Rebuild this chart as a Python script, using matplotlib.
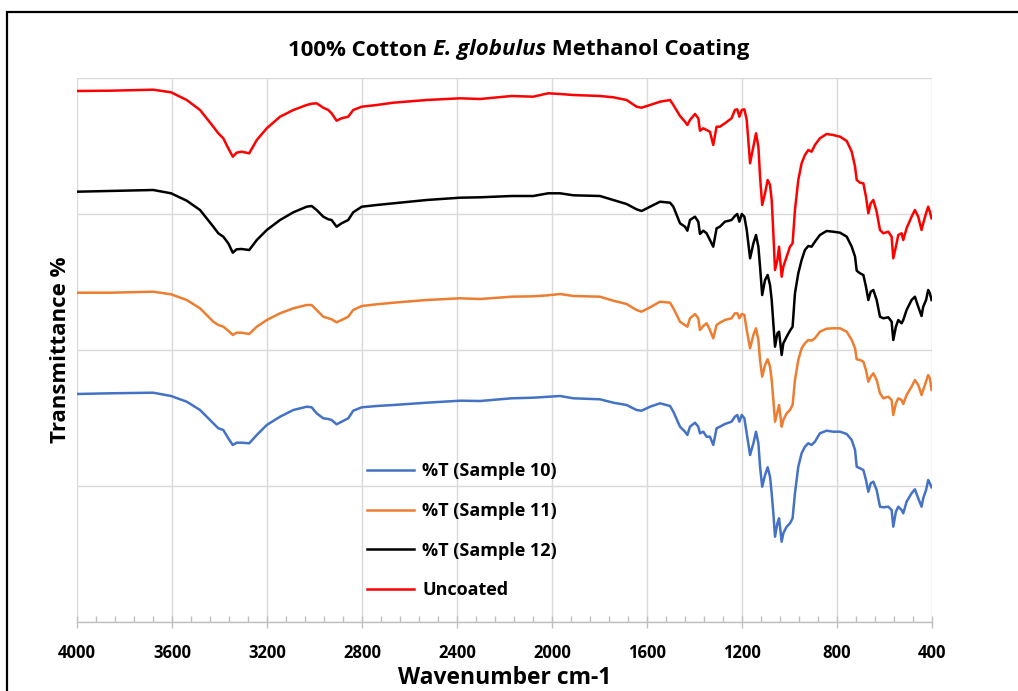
import matplotlib
matplotlib.use("Agg")
import matplotlib.pyplot as plt
from matplotlib.patches import Rectangle
from matplotlib.ticker import MultipleLocator

# ── Data (arbitrary offset transmittance units) ──────────────────────────────

wavenumber = [
    4000, 3861, 3679, 3604, 3538, 3482, 3426, 3405, 3384, 3363, 3344, 3328, 3307,
    3275, 3243, 3201, 3145, 3089, 3033, 3012, 2991, 2963, 2942, 2928, 2907, 2886,
    2858, 2837, 2801, 2738, 2668, 2528, 2387, 2303,
    2170, 2079, 2016, 1966, 1910,
    1798, 1742, 1686, 1644, 1623, 1587, 1545, 1503, 1489, 1461, 1440, 1430, 1419,
    1398, 1384, 1377, 1363, 1349, 1335, 1321, 1307, 1293, 1272, 1244, 1230, 1220,
    1211, 1201, 1190, 1180, 1166, 1152, 1141, 1131, 1124, 1115, 1103, 1092, 1082,
    1075, 1068, 1061, 1051, 1044, 1033, 1026, 1012, 998, 987, 977, 963, 949, 935,
    921, 907, 893, 872, 844, 816, 787, 759, 738, 724, 717, 703, 689, 678, 668, 658,
    647, 633, 619, 605, 584, 570, 563, 552, 542, 528, 521, 507, 486, 472, 458, 444,
    437, 425, 416, 409, 402,
]

t_uncoated = [
    531, 531.3, 532.3, 529.7, 522, 512, 495.3, 488.7, 483.7, 473.7, 465.3, 469.3,
    470.3, 468.7, 482, 493.7, 505.3, 512, 517, 518.3, 518.7, 514.3, 512, 508.7,
    501.3, 503.7, 505.3, 512, 515.3, 517, 519.3, 522, 523.7, 523,
    526, 525.3, 528.7, 528, 527,
    526, 524.7, 522, 515.3, 514.3, 517, 520.3, 522, 517, 506, 500.3, 497, 502, 508,
    503.7, 491.3, 493.7, 492, 490.3, 477, 495.3, 495.3, 498.7, 503.7, 512, 512.7,
    505.3, 512, 512.7, 502, 458.7, 475.3, 488.7, 475.3, 445.3, 417, 428.7, 442, 437,
    422, 388.7, 352, 362, 375.3, 345.3, 355.3, 365.3, 375.3, 378.7, 412, 442, 458.7,
    467, 472, 470.3, 477, 483.7, 488, 487, 485.3, 481, 470.3, 455.3, 442, 439.3,
    438.7, 425.3, 408.7, 418.7, 422, 410.3, 392, 388.7, 390.3, 385.3, 363.7, 375.3,
    387, 388.7, 382, 393.7, 405.3, 412, 405.3, 392, 398.7, 408.7, 415.3, 410.3, 403.7,
]

t_sample12 = [
    430.3, 431, 432, 428.7, 421.3, 412, 395.3, 388.7, 385.3, 378.7, 369.3, 372.7,
    373, 372, 382, 392, 402, 409.7, 415.3, 416, 412, 405.3, 402.7, 402, 395.3,
    398.7, 402, 409.7, 415.3, 417, 418.7, 422, 424.3, 424.7,
    426, 426, 428.7, 428.7, 426.7,
    426, 422, 418, 412.7, 411, 415.3, 420.3, 419.3, 415.3, 398.7, 395.3, 391.3, 402,
    405.3, 400.3, 388, 391.3, 388.7, 382, 375.3, 393.7, 395.3, 400.3, 402, 406, 408,
    400.3, 408, 405.3, 392, 363.7, 378.7, 387, 375.3, 355.3, 327, 342, 347, 337, 322,
    298.7, 275.3, 288.7, 290.3, 267, 278.7, 285.3, 291.3, 295.3, 328.7, 348.7, 362,
    372, 376, 375.3, 380.3, 387, 391, 390.3, 389.3, 385.3, 375.3, 365.3, 351.3,
    348.7, 347, 335.3, 322, 330.3, 332, 322, 305.3, 303.7, 304.7, 300.3, 282, 295.3,
    302, 298.7, 302, 312, 322, 325.3, 315.3, 306, 315.3, 322, 332, 328.7, 322,
]

t_sample11 = [
    329.3, 329.3, 330.3, 327.7, 322, 313.7, 300.3, 297, 295.3, 291.3, 287, 289.3,
    289.3, 288, 295.3, 302, 308.7, 313.7, 317, 317, 312, 305.3, 303.7, 302.7, 299.7,
    302, 305.3, 312, 316, 317.7, 319.3, 322, 323.7, 323,
    325.3, 325.7, 326.7, 328, 326,
    325.3, 321.3, 318, 312, 310.3, 314.7, 320.3, 319.3, 313.7, 300.3, 297, 295.3,
    303.7, 308, 303.7, 292, 296, 298.7, 292, 283.7, 297, 299.3, 302, 303.7, 308.7,
    308.7, 303.7, 308, 307, 292, 273.7, 287, 293.7, 282, 262, 245.3, 257, 262.7,
    255.3, 242, 222, 200.3, 210.3, 217, 195.3, 202, 208.7, 212, 217, 242, 262, 273.7,
    278.7, 282, 281.3, 283.7, 290.3, 293.3, 293.7, 293.7, 290.3, 282, 273.7, 262.7,
    262, 260.3, 252, 240.3, 245.3, 248.7, 242, 228.7, 223.7, 225.3, 222, 207, 218.7,
    223.7, 222, 218, 227, 235.3, 242, 237, 227, 232, 240.3, 247, 243.7, 232,
]

t_sample10 = [
    228, 228.7, 229.3, 226, 220.3, 212, 198.7, 193.7, 192, 183.7, 177, 179.3, 179.3,
    178.7, 187, 197, 205.3, 212, 215.3, 214.7, 208.7, 203.7, 203, 202, 197.7, 200.3,
    203.7, 211.3, 214.7, 216, 217, 219.3, 221.3, 221,
    223.7, 224.3, 225.3, 226, 223.7,
    222.7, 219.3, 217, 212, 211.3, 215.3, 218.7, 216, 210.3, 195.3, 190.3, 187,
    195.3, 199.3, 195.3, 188.7, 190.3, 185.3, 185.3, 177, 193.7, 195.3, 198, 200.3,
    205.3, 207, 200.3, 207, 203.7, 188.7, 167, 178.7, 190.3, 178.7, 155.3, 135.3,
    147, 154.7, 145.3, 128.7, 108.7, 85.3, 98.7, 103.7, 80.3, 88.7, 95.3, 98.7, 103.7,
    128.7, 155.3, 168.7, 175.3, 178.7, 177, 180.3, 188.7, 191.3, 190.3, 190.3, 188,
    182, 172, 155.3, 153.7, 152, 142, 130.3, 138.7, 140.3, 132, 115.3, 114.7, 115.3,
    112, 95.3, 110.3, 115.3, 112, 108.7, 120.3, 128.7, 132.7, 123.7, 115.3, 123.7,
    132, 142, 138.7, 134.7,
]

series_labels = ["%T (Sample 10)", "%T (Sample 11)", "%T (Sample 12)", "Uncoated"]
series_colors = ["#4472C4", "#ED7D31", "#000000", "#FF0000"]

# ── Style ─────────────────────────────────────────────────────────────────────

FONT = "Open Sans"
plt.rcParams["font.family"] = [FONT, "DejaVu Sans"]

GRID = "#D9D9D9"
AXIS = "#BFBFBF"

fig = plt.figure(figsize=(10.18, 6.91), dpi=100, facecolor="white")
ax = fig.add_axes([77 / 1018, 1 - 622 / 691, 855 / 1018, 544 / 691])

series = [t_sample10, t_sample11, t_sample12, t_uncoated]
for vals, label, color in zip(series, series_labels, series_colors):
    ax.plot(wavenumber, vals, color=color, lw=1.8, label=label,
            solid_joinstyle="round")

ax.set_xlim(4000, 400)
ax.set_ylim(0, 544)
ax.xaxis.set_major_locator(MultipleLocator(400))
ax.xaxis.set_minor_locator(MultipleLocator(80))
ax.yaxis.set_major_locator(MultipleLocator(136))
ax.grid(True, which="major", color=GRID, lw=1.0)
ax.set_axisbelow(True)

for side in ["top", "right", "left"]:
    ax.spines[side].set_visible(False)
ax.spines["bottom"].set_color(AXIS)
ax.spines["bottom"].set_linewidth(1.0)

ax.tick_params(axis="y", left=False, labelleft=False)
ax.tick_params(axis="x", which="major", direction="inout", length=9,
               color=AXIS, width=1.0, labelsize=12, pad=11)
ax.tick_params(axis="x", which="minor", direction="in", length=4,
               color=AXIS, width=1.0)
for lbl in ax.get_xticklabels():
    lbl.set_fontweight("bold")

ax.set_xlabel("Wavenumber cm-1", fontsize=16.5, fontweight="bold", labelpad=3)
ax.set_ylabel("Transmittance %", fontsize=16, fontweight="bold", labelpad=4)

# title: bold text with a bold-italic species name, laid out piece by piece
title_parts = [("100% Cotton ", "normal"), ("E. globulus", "italic"),
               (" Methanol Coating", "normal")]
renderer = fig.canvas.get_renderer()
title_y = 1 - 50 / 691
pieces, widths = [], []
for txt, style in title_parts:
    t = fig.text(0, title_y, txt.replace(" ", "\u00a0"), fontsize=16,
                 fontweight="bold", fontstyle=style, va="center", ha="left")
    pieces.append(t)
    widths.append(t.get_window_extent(renderer).width / fig.bbox.width)
x0 = 519 / 1018 - sum(widths) / 2
for t, w in zip(pieces, widths):
    t.set_x(x0)
    x0 += w

ax.legend(loc="upper left", bbox_to_anchor=(351 / 1018, 1 - 446 / 691),
          bbox_transform=fig.transFigure, frameon=False,
          prop={"weight": "bold", "size": 13}, handlelength=2.6,
          handletextpad=0.45, labelspacing=1.2)

# outer chart border (only left and top edges fall inside the picture)
fig.patches.append(Rectangle((7 / 1018, -0.2), 1.5, 1 - 12 / 691 + 0.2,
                             transform=fig.transFigure, fill=False,
                             edgecolor="black", lw=1.6))

fig.savefig("out.png", dpi=100, facecolor="white")
